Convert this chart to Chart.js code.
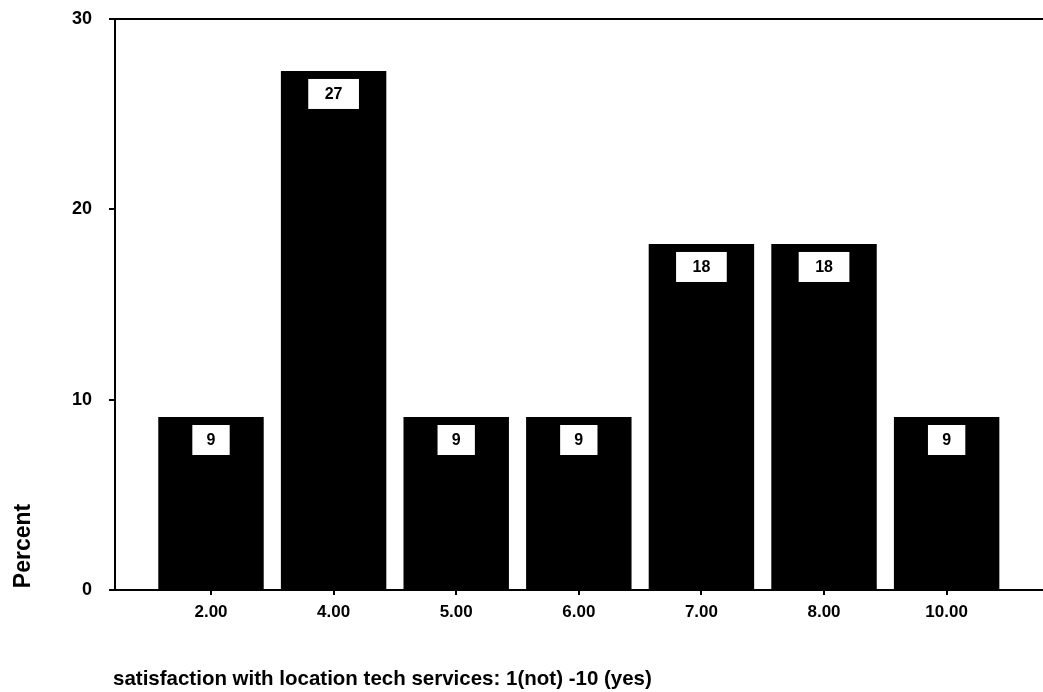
<!DOCTYPE html>
<html lang="en">
  <head>
    <meta charset="utf-8">
    <title>Satisfaction with location tech services</title>
    <script src="https://cdn.jsdelivr.net/npm/chart.js@4/dist/chart.umd.min.js"></script>
    <style>
      html, body { margin: 0; padding: 0; background: #fff; }
      #wrap { width: 1043px; height: 692px; position: relative; }
    </style>
  </head>
  <body>
    <div id="wrap">
      <canvas id="chartCanvas"></canvas>
    </div>
    <script>
      // values (11 respondents -> 9.09% steps)
      const categories = ['2.00', '4.00', '5.00', '6.00', '7.00', '8.00', '10.00'];
      const percents = [9.09, 27.27, 9.09, 9.09, 18.18, 18.18, 9.09];
      const barLabels = ['9', '27', '9', '9', '18', '18', '9'];
      const yTicks = [0, 10, 20, 30];
      const xTitle = 'satisfaction with location tech services: 1(not) -10 (yes)';
      const yTitle = 'Percent';

      const FONT = '"Liberation Sans", Arial, Helvetica, sans-serif';

      // frame line on top, value boxes, axis titles
      const extras = {
        id: 'extras',
        afterDatasetsDraw(chart) {
          const ctx = chart.ctx;
          const area = chart.chartArea;
          ctx.save();
          ctx.strokeStyle = '#000';
          ctx.lineWidth = 2;
          ctx.beginPath();
          ctx.moveTo(area.left - 1, area.top);
          ctx.lineTo(area.right, area.top);
          ctx.stroke();

          ctx.font = 'bold 16px ' + FONT;
          ctx.textAlign = 'center';
          ctx.textBaseline = 'middle';
          chart.getDatasetMeta(0).data.forEach((bar, i) => {
            const txt = barLabels[i];
            const w = ctx.measureText(txt).width * 1.5 + 24;
            const h = 30;
            const top = bar.y + 8;
            ctx.fillStyle = '#fff';
            ctx.fillRect(bar.x - w / 2, top, w, h);
            ctx.fillStyle = '#000';
            ctx.fillText(txt, bar.x, top + h / 2 + 1);
          });

          ctx.font = 'bold 20.5px ' + FONT;
          ctx.textAlign = 'left';
          ctx.textBaseline = 'alphabetic';
          ctx.fillText(xTitle, area.left - 2, 685);

          ctx.font = 'bold 23px ' + FONT;
          ctx.translate(24, 546);
          ctx.rotate(-Math.PI / 2);
          ctx.textAlign = 'center';
          ctx.textBaseline = 'middle';
          ctx.fillText(yTitle, 0, 0);
          ctx.restore();
        }
      };

      const ctx = document.getElementById('chartCanvas');

      var chart = new Chart(ctx, {
        type: 'bar',
        data: {
          datasets: [{
            label: 'Percent',
            data: percents.map((v, i) => ({ x: i, y: v })),
            backgroundColor: '#000',
            borderWidth: 0,
            barPercentage: 0.86,
            categoryPercentage: 1
          }]
        },
        options: {
          responsive: true,
          maintainAspectRatio: false,
          animation: false,
          layout: { padding: { top: 19, right: 0, bottom: 0, left: 0 } },
          plugins: {
            legend: { display: false },
            tooltip: { enabled: false }
          },
          scales: {
            x: {
              type: 'linear',
              offset: false,
              min: -0.783,
              max: 6.786,
              afterBuildTicks: scale => {
                scale.ticks = categories.map((c, i) => ({ value: i }));
              },
              afterFit: scale => { scale.height = 102; },
              ticks: {
                callback: v => categories[v],
                color: '#000',
                font: { family: FONT, size: 17, weight: 'bold' },
                padding: 7,
                maxRotation: 0,
                autoSkip: false
              },
              grid: {
                offset: false,
                drawOnChartArea: false,
                color: '#000',
                lineWidth: 2,
                tickLength: 5
              },
              border: { display: true, color: '#000', width: 2 }
            },
            y: {
              min: 0,
              max: 30,
              afterBuildTicks: scale => {
                scale.ticks = yTicks.map(v => ({ value: v }));
              },
              afterFit: scale => {
                scale.width = 115;
                scale.paddingTop = 0;
                scale.paddingBottom = 0;
              },
              ticks: {
                color: '#000',
                font: { family: FONT, size: 18, weight: 'bold' },
                padding: 17
              },
              grid: {
                drawOnChartArea: false,
                color: '#000',
                lineWidth: 2,
                tickLength: 6
              },
              border: { display: true, color: '#000', width: 2 }
            }
          }
        },
        plugins: [extras]
      });
    </script>
  </body>
</html>
